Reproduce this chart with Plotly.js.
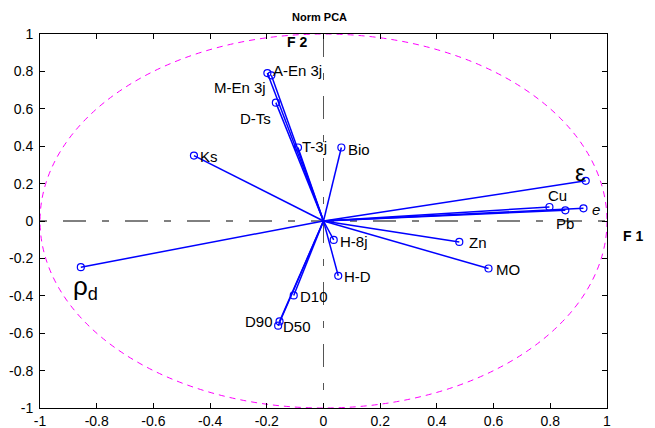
<!DOCTYPE html>
<html><head><meta charset="utf-8">
<script src="https://cdn.plot.ly/plotly-3.0.1.min.js"></script>
<style>html,body{margin:0;padding:0;background:#fff}</style>
</head><body><div id="chart" style="width:655px;height:428px"></div>
<script>
const labels = ['A-En 3j','M-En 3j','D-Ts','T-3j','Bio','Ks','ε','Cu','<i>e</i>','Pb','Zn','MO','H-8j','H-D','D10','D90','D50','ρ<sub>d</sub>'];
const f1 = [-0.198,-0.184,-0.168,-0.090,0.063,-0.457,0.925,0.797,0.917,0.853,0.479,0.582,0.036,0.052,-0.105,-0.155,-0.160,-0.856];
const f2 = [0.791,0.779,0.633,0.393,0.393,0.350,0.215,0.075,0.068,0.057,-0.112,-0.254,-0.101,-0.293,-0.398,-0.537,-0.560,-0.247];
const tickVals = [-1,-0.8,-0.6,-0.4,-0.2,0,0.2,0.4,0.6,0.8,1];
const tickText = ['-1','-0.8','-0.6','-0.4','-0.2','0','0.2','0.4','0.6','0.8','1'];

const FONT = 'Liberation Sans, Arial, sans-serif';
// label placement styles: [xanchor, xshift, yanchor, yshift, size]
const place = {
 'A-En 3j':['left',4,'middle',3,15],
 'M-En 3j':['right',-3,'middle',-12,15],
 'D-Ts':['right',-3,'middle',-16,15],
 'T-3j':['left',2,'middle',1,15],
 'Bio':['left',5,'middle',-2,15],
 'Ks':['left',4,'middle',-1,15],
 'ε':['right',2,'middle',8,24],
 'Cu':['left',-3,'middle',11,15],
 '<i>e</i>':['left',7,'middle',-1,15],
 'Pb':['center',0,'middle',-13,15],
 'Zn':['left',8,'middle',-1,15],
 'MO':['left',5,'middle',-1,15],
 'H-8j':['left',4,'middle',-2,15],
 'H-D':['left',4,'middle',-1,15],
 'D10':['left',4,'middle',-1,15],
 'D90':['right',-5,'middle',0,15],
 'D50':['left',3,'middle',-1,15],
 'ρ<sub>d</sub>':['left',-10,'top',-2,26]
};

const lx=[], ly=[];
f1.forEach((v,i)=>{lx.push(0,v,null); ly.push(0,f2[i],null);});

const traces = [
 {x:lx,y:ly,mode:'lines',line:{color:'#0000ff',width:1.5},hoverinfo:'skip',showlegend:false},
 {x:f1,y:f2,mode:'markers',
  marker:{symbol:'circle-open',size:7,color:'#0000ff',line:{width:1.2,color:'#0000ff'}},
  cliponaxis:false,showlegend:false}
];

const labelAnns = labels.map((t,i)=>{
 const p = place[t];
 return {text:t,xref:'x',yref:'y',x:f1[i],y:f2[i],showarrow:false,
   xanchor:p[0],xshift:p[1],yanchor:p[2],yshift:p[3],
   font:{family:FONT,size:p[4],color:'#000'}};
});

const axisCommon = {range:[-1,1],tickmode:'array',tickvals:tickVals,ticktext:tickText,
  ticks:'inside',ticklen:5,tickcolor:'#000',showline:true,linecolor:'#000',linewidth:1,mirror:'ticks',
  showgrid:false,zeroline:false,tickfont:{family:FONT,size:14,color:'#000'}};

const layout = {
 width:655,height:428,
 margin:{l:40,r:48,t:34,b:20},
 paper_bgcolor:'#fff',plot_bgcolor:'#fff',
 title:{text:'<b>Norm PCA</b>',font:{family:FONT,size:11,color:'#000'},x:0.493,xref:'paper',y:0.96,yanchor:'middle'},
 xaxis:Object.assign({},axisCommon,{ticklabelstandoff:0}),
 yaxis:Object.assign({},axisCommon,{ticklabelstandoff:3}),
 shapes:[
  {type:'circle',xref:'x',yref:'y',x0:-1,x1:1,y0:-1,y1:1,line:{color:'#ff00ff',width:1,dash:'6px,5px'},layer:'below'},
  {type:'line',xref:'paper',yref:'y',x0:0,x1:1,y0:0,y1:0,line:{color:'#000',width:1,dash:'7px,16px,23px,16px'},layer:'below'},
  {type:'line',xref:'x',yref:'paper',x0:0,x1:0,y0:1,y1:0,line:{color:'#555',width:1,dash:'23px,16px,7px,16px'},layer:'below'}
 ],
 annotations:labelAnns.concat([
  {text:'<b>F 2</b>',xref:'x',yref:'y',x:-0.095,y:0.958,showarrow:false,font:{family:FONT,size:14,color:'#000'}},
  {text:'<b>F 1</b>',xref:'paper',yref:'paper',x:1.067,y:0.46,showarrow:false,font:{family:FONT,size:14,color:'#000'}}
 ])
};
Plotly.newPlot('chart',traces,layout,{displayModeBar:false,staticPlot:true});
</script></body></html>
